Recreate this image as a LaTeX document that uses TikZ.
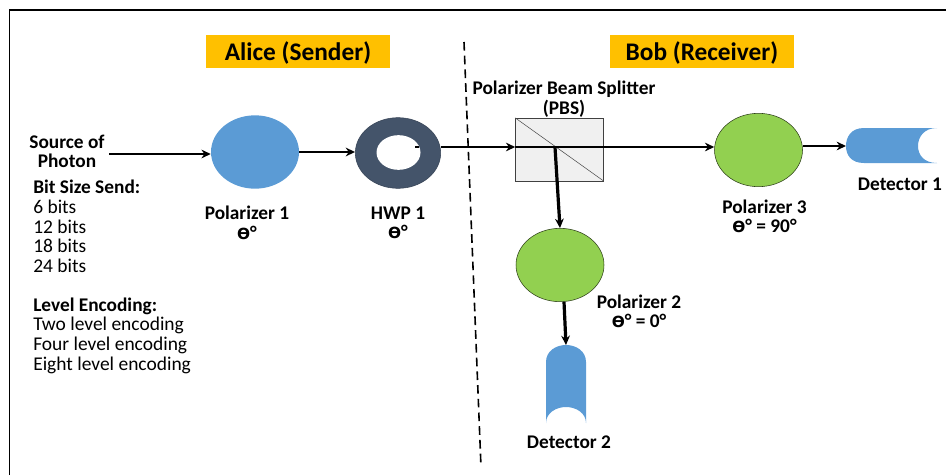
\documentclass[tikz,border=0pt]{standalone}
\usepackage{fontspec}
\setmainfont{Carlito}
\newfontfamily\thetafont{DejaVu Sans}
\newcommand{\thetadeg}{{\thetafont\fontsize{11.5}{14.6}\selectfont Ɵ}°}
\usetikzlibrary{arrows.meta,shapes.geometric}
\definecolor{hdrfill}{RGB}{255,192,0}
\definecolor{bluefill}{RGB}{91,155,213}
\definecolor{greenfill}{RGB}{146,208,80}
\definecolor{hwpfill}{RGB}{68,84,106}
\tikzset{
  ray/.style={line width=1.8pt,-{Stealth[length=7pt,width=6.5pt]}},
  hdr/.style={fill=hdrfill,minimum width=138pt,minimum height=25pt,inner sep=0pt,text height=15.5pt,text depth=1.5pt,font=\fontsize{19}{22}\selectfont\bfseries},
  lbl/.style={align=center,inner sep=0pt,font=\fontsize{14.5}{14.6}\selectfont\bfseries},
  txt/.style={anchor=west,inner sep=0pt,text height=8pt,text depth=2.5pt,font=\fontsize{14.6}{14.6}\selectfont},
  txtb/.style={txt,font=\fontsize{14.5}{14.6}\selectfont\bfseries},
  disc/.style={ellipse,minimum width=66pt,minimum height=55pt,inner sep=0pt}
}
\begin{document}
\begin{tikzpicture}[x=0.75pt,y=-0.75pt]
\useasboundingbox (0,0) rectangle (946,475);
\draw[line width=1.3pt] (9.5,475) -- (9.5,10) -- (946,10);
\node[hdr] (alice) at (298,51.5) {Alice (Sender)};
\node[hdr] (bob) at (702,51.5) {Bob (Receiver)};
\coordinate (divtop) at (464,42);
\coordinate (divbot) at (481,467);
\draw[line width=1.2pt,dash pattern=on 6.5pt off 3.8pt] (divtop) -- (divbot);
% left column
\node[lbl] (src) at (67,151.5) {Source of\\Photon};
\node[txtb] (bits) at (33,190) {Bit Size Send:};
\node[txt] (b6) at (33,210) {6 bits};
\node[txt] (b12) at (33,229.5) {12 bits};
\node[txt] (b18) at (33,249) {18 bits};
\node[txt] (b24) at (33,268.5) {24 bits};
\node[txtb] (lvl) at (33,307.5) {Level Encoding:};
\node[txt] (l2) at (33,327) {Two level encoding};
\node[txt] (l4) at (33,346.5) {Four level encoding};
\node[txt] (l8) at (33,366.5) {Eight level encoding};
% elements
\node[disc,fill=bluefill] (pol1) at (255,152) {};
\node[disc,fill=hwpfill,draw=hwpfill!80!black,minimum width=64pt,minimum height=53pt] (hwp) at (398,153) {};
\node[ellipse,fill=white,minimum width=33pt,minimum height=26pt,inner sep=0pt] (hole) at (398.5,152.5) {};
\node[rectangle,draw=black!75,fill=black!6,minimum width=66pt,minimum height=47pt,inner sep=0pt] (pbs) at (559.5,149.5) {};
\draw[black!70] (pbs.north west) -- (pbs.south east);
\node[disc,fill=greenfill,draw=black!70!greenfill] (pol3) at (758.5,150) {};
\node[disc,fill=greenfill,draw=black!70!greenfill] (pol2) at (560,265) {};
\node[lbl] (pol1l) at (247,223) {Polarizer 1\\\thetadeg};
\node[lbl] (hwpl) at (398,223) {HWP 1\\\thetadeg};
\node[lbl] (pbsl) at (564,99) {Polarizer Beam Splitter\\(PBS)};
\node[lbl] (pol3l) at (764.5,216.5) {Polarizer 3\\\thetadeg{} = 90°};
\node[lbl] (pol2l) at (639,311.5) {Polarizer 2\\\thetadeg{} = 0°};
\node[lbl] (det1l) at (900,184.5) {Detector 1};
\node[lbl] (det2l) at (569,442.5) {Detector 2};
% detector 1
\coordinate (det1) at (846,146);
\fill[bluefill] (937,128) -- (864,128) .. controls (851,128) and (846,137) .. (846,146) .. controls (846,155) and (851,163) .. (864,163) -- (937,163) .. controls (924,163) and (918,155) .. (918,146) .. controls (918,137) and (924,128) .. (937,128) -- cycle;
% detector 2
\coordinate (det2) at (566,345);
\fill[bluefill] (546,423) -- (546,362) .. controls (546,351) and (556,345) .. (566,345) .. controls (576,345) and (586,351) .. (586,362) -- (586,423) .. controls (586,413) and (576,407) .. (566,407) .. controls (556,407) and (546,413) .. (546,423) -- cycle;
% rays
\coordinate (srcout) at (109,154);
\coordinate (pbsc) at (555,147);
\coordinate (hwpin) at (415,147);
\draw[ray] (srcout) -- (pol1.west |- srcout);
\draw[ray] (pol1.east) -- (hwp.west |- pol1.east);
\draw[ray] (hwp.east |- pbsc) -- (pbs.west |- pbsc);
\draw[line width=1.8pt] (hwpin) -- ++(4,0);
\draw[ray] (pbs.west |- pbsc) -- (pol3.west |- pbsc);
\draw[ray] (pol3.east |- det1) -- (det1);
\draw[ray,line width=2.4pt] (pbsc) -- (pol2.north);
\draw[ray,line width=2.4pt] (pol2.south) ++(4,0) -- (det2);
\end{tikzpicture}
\end{document}
